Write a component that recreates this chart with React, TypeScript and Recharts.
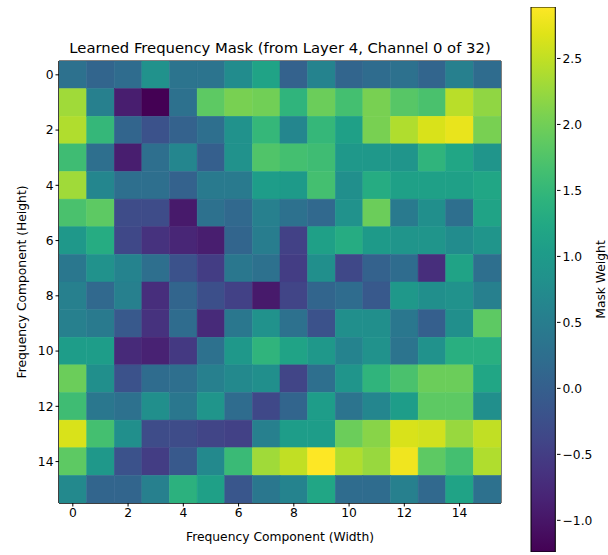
import { ScatterChart, Scatter, XAxis, YAxis, ReferenceArea, ComposedChart, Bar, Label } from 'recharts'

// 16x16 learned mask, rows = height (top to bottom), cols = width
const MASK: number[][] = [
  [0.3, 0.1, 0.2, 0.85, 0.35, 0.35, 0.75, 1.15, 0.05, 0.6, 0.1, 0.2, 0.3, 0.1, 0.55, 0.2],
  [2.3, 0.55, -0.9, -1.24, 0.3, 1.85, 2.05, 2.0, 1.45, 1.95, 1.65, 2.05, 1.8, 1.7, 2.45, 2.2],
  [2.4, 1.5, 0.1, -0.2, 0.05, 0.25, 0.85, 1.5, 0.65, 1.5, 1.1, 2.05, 2.4, 2.65, 2.75, 2.05],
  [1.6, 0.25, -0.9, 0.25, 0.65, 0.0, 0.85, 1.75, 1.65, 1.6, 0.95, 0.95, 0.9, 1.45, 1.2, 0.9],
  [2.3, 0.65, 0.25, 0.25, 0.05, 0.45, 0.45, 1.05, 1.0, 1.65, 0.8, 1.3, 1.1, 1.1, 1.1, 1.2],
  [1.7, 1.85, -0.3, -0.3, -0.95, 0.3, 0.15, 0.55, 0.3, 0.15, 0.85, 1.95, 0.45, 0.8, 0.25, 1.15],
  [0.95, 1.3, -0.35, -0.65, -0.8, -0.9, 0.1, 0.5, -0.45, 1.1, 1.3, 1.0, 0.9, 0.9, 0.75, 0.9],
  [0.4, 0.85, 0.6, 0.25, -0.2, -0.5, 0.4, 0.3, -0.5, 0.8, -0.35, 0.05, 0.2, -0.7, 1.15, 0.25],
  [0.55, 0.15, 0.55, -0.7, 0.1, -0.25, -0.45, -0.95, -0.4, 0.1, 0.2, -0.1, 0.95, 0.8, 0.85, 0.55],
  [0.55, 0.45, -0.1, -0.65, 0.2, -0.75, 0.4, 0.85, 0.3, -0.2, 0.8, 0.8, 0.4, 0.0, 0.8, 1.85],
  [1.05, 1.05, -0.75, -0.85, -0.55, 0.3, 0.95, 1.45, 1.15, 0.95, 0.6, 0.85, 0.35, 0.85, 1.35, 1.35],
  [1.95, 0.8, -0.2, 0.2, 0.25, 0.55, 0.7, 0.8, -0.4, 0.25, 0.9, 1.45, 1.7, 1.95, 1.95, 1.2],
  [1.6, 0.4, 0.3, 0.8, 0.4, 0.9, 0.2, -0.35, 0.1, 1.05, 0.35, 0.65, 1.05, 1.85, 1.85, 0.8],
  [2.65, 1.65, 0.8, -0.3, -0.3, -0.4, -0.45, 0.55, 1.05, 1.05, 1.95, 2.15, 2.65, 2.6, 2.25, 2.5],
  [1.85, 0.95, -0.2, -0.5, -0.1, 0.7, 1.55, 2.3, 2.5, 2.89, 2.4, 2.25, 2.8, 1.85, 1.65, 2.4],
  [0.7, 0.1, 0.1, 0.55, 1.4, 1.1, -0.15, 0.4, 0.6, 1.2, 0.2, 0.2, 0.55, 0.15, 1.15, 0.3],
]

const AXIS_TICKS = [0, 2, 4, 6, 8, 10, 12, 14]
const BAR_TICKS = [-1.0, -0.5, 0.0, 0.5, 1.0, 1.5, 2.0, 2.5]

const VIRIDIS = [
  '#440154', '#471365', '#482475', '#463480', '#414487', '#3b528b', '#355f8d',
  '#2f6c8e', '#2a788e', '#25848e', '#21918c', '#1e9c89', '#22a884', '#2fb47c',
  '#44bf70', '#5ec962', '#7ad151', '#9bd93c', '#bddf26', '#dfe318', '#fde725',
]

const cells = MASK.flatMap((row, y) => row.map((v, x) => ({ x, y, v })))
const VMIN = Math.min(...cells.map((c) => c.v))
const VMAX = Math.max(...cells.map((c) => c.v))
const colorbarData = [{ name: 'mask', range: [VMIN, VMAX] }]

const hex = (h: string) => [1, 3, 5].map((i) => parseInt(h.slice(i, i + 2), 16))

const viridis = (v: number) => {
  const t = Math.max(0, Math.min(1, (v - VMIN) / (VMAX - VMIN))) * (VIRIDIS.length - 1)
  const i = Math.min(Math.floor(t), VIRIDIS.length - 2)
  const f = t - i
  const a = hex(VIRIDIS[i])
  const b = hex(VIRIDIS[i + 1])
  const c = a.map((ch, k) => Math.round(ch + (b[k] - ch) * f))
  return `rgb(${c[0]},${c[1]},${c[2]})`
}

const PLOT = 442
const CELL = PLOT / 16
const FONT = '"DejaVu Sans", sans-serif'
const FS = 12.3
const tickStyle = { fontSize: FS, fill: '#000', fontFamily: FONT }
const fmt = (v: number) => (v < 0 ? '\u2212' + Math.abs(v).toFixed(1) : v.toFixed(1))

const CellShape = (props: any) => {
  const fill = viridis(props.payload.v)
  return (
    <rect
      x={props.cx - CELL / 2}
      y={props.cy - CELL / 2}
      width={CELL}
      height={CELL}
      fill={fill}
      stroke={fill}
      strokeWidth={0.5}
    />
  )
}

const rotatedLabel = (text: string, dx: number) => ({ viewBox }: any) => {
  const cx = viewBox.x + dx
  const cy = viewBox.y + viewBox.height / 2
  return (
    <text x={cx} y={cy} transform={`rotate(-90, ${cx}, ${cy})`} textAnchor="middle"
      dominantBaseline="central" fontSize={FS} fill="#000" fontFamily={FONT}>
      {text}
    </text>
  )
}

export default function App() {
  return (
    <div style={{ position: 'absolute', left: 0, top: 0, width: 608, height: 555, background: '#fff', fontFamily: FONT }}>
      <div
        style={{
          position: 'absolute', left: 0, top: 39, width: 560, textAlign: 'center',
          fontSize: 14.8, lineHeight: '17px', color: '#000',
        }}
      >
        Learned Frequency Mask (from Layer 4, Channel 0 of 32)
      </div>

      <div style={{ position: 'absolute', left: 0, top: 0 }}>
        <ScatterChart width={520} height={555} margin={{ top: 61, right: 19, bottom: 12, left: 0 }}>
          <XAxis
            type="number"
            dataKey="x"
            domain={[-0.5, 15.5]}
            ticks={AXIS_TICKS}
            allowDataOverflow
            height={40}
            tick={tickStyle}
            tickSize={3.5}
            tickLine={{ stroke: '#000' }}
            axisLine={{ stroke: '#000' }}
          >
            <Label value="Frequency Component (Width)" position="insideBottom" offset={2}
              style={{ fontSize: FS, fill: '#000', fontFamily: FONT }} />
          </XAxis>
          <YAxis
            type="number"
            dataKey="y"
            domain={[-0.5, 15.5]}
            reversed
            ticks={AXIS_TICKS}
            allowDataOverflow
            width={59}
            tick={tickStyle}
            tickSize={3.5}
            tickLine={{ stroke: '#000' }}
            axisLine={{ stroke: '#000' }}
          >
            <Label content={rotatedLabel('Frequency Component (Height)', 22)} />
          </YAxis>
          <Scatter data={cells} shape={CellShape} isAnimationActive={false} />
          <ReferenceArea x1={-0.5} x2={15.5} y1={-0.5} y2={15.5} fill="none" fillOpacity={0}
            stroke="#000" strokeWidth={1} />
        </ScatterChart>
      </div>

      <div style={{ position: 'absolute', left: 520, top: 0 }}>
        <ComposedChart width={88} height={555} data={colorbarData}
          margin={{ top: 7, right: 0, bottom: 3, left: 10 }}>
          <defs>
            <linearGradient id="viridisBar" x1="0" y1="1" x2="0" y2="0">
              {VIRIDIS.map((c, i) => (
                <stop key={i} offset={i / (VIRIDIS.length - 1)} stopColor={c} />
              ))}
            </linearGradient>
          </defs>
          <XAxis type="category" dataKey="name" hide padding={{ left: 0, right: 0 }} />
          <YAxis
            type="number"
            orientation="right"
            domain={[VMIN, VMAX]}
            ticks={BAR_TICKS}
            allowDataOverflow
            width={51}
            tick={tickStyle}
            tickFormatter={fmt}
            tickSize={3.5}
            tickLine={{ stroke: '#000' }}
            axisLine={false}
          >
            <Label content={rotatedLabel('Mask Weight', 44)} />
          </YAxis>
          <Bar dataKey="range" fill="url(#viridisBar)" stroke="#000" strokeWidth={1}
            barSize={27} isAnimationActive={false} />
        </ComposedChart>
      </div>
    </div>
  )
}
